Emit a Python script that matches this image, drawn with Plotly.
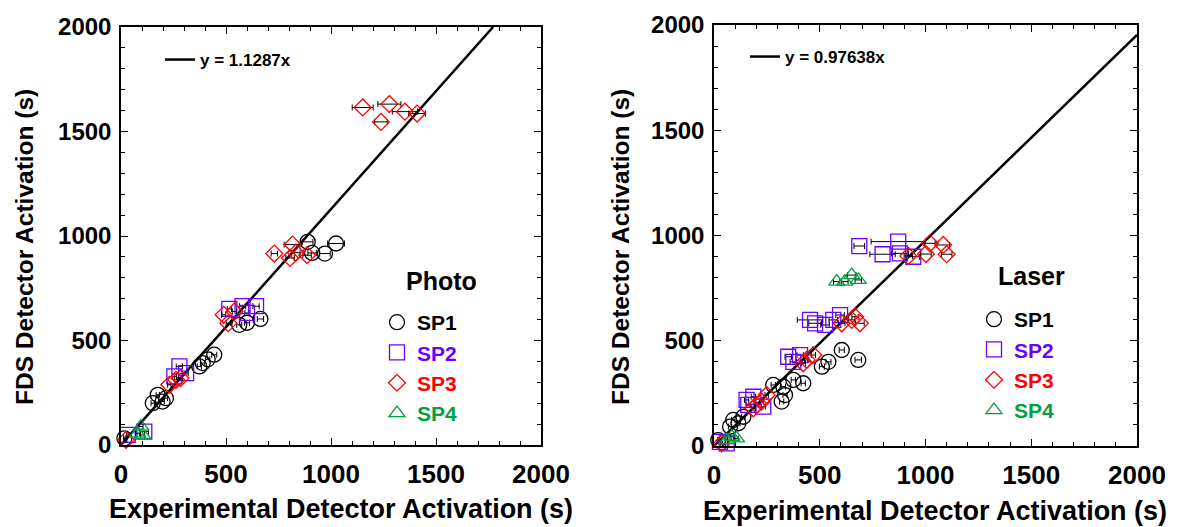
import plotly.graph_objects as go

# ---- Photo detectors (left panel) ----
photo_sp1_x = [16, 151, 175, 198, 214, 373, 389, 413, 444, 563, 600, 664, 889, 910, 971, 1024]
photo_sp1_y = [32, 200, 240, 208, 224, 376, 392, 410, 432, 575, 585, 603, 972, 919, 916, 964]
photo_sp1_ex = [4, 8, 8, 8, 8, 10, 10, 10, 12, 12, 12, 15, 25, 20, 25, 40]

photo_sp2_x = [32, 111, 254, 278, 310, 516, 579, 600, 643]
photo_sp2_y = [48, 64, 328, 376, 344, 651, 664, 632, 664]
photo_sp2_ex = [5, 20, 10, 15, 10, 10, 15, 10, 15]

photo_sp3_x = [24, 230, 262, 283, 489, 511, 540, 730, 805, 817, 833, 886, 1151, 1238, 1278, 1352, 1410]
photo_sp3_y = [24, 288, 312, 320, 623, 583, 639, 916, 895, 959, 920, 908, 1615, 1546, 1631, 1595, 1586]
photo_sp3_ex = [4, 8, 8, 8, 10, 10, 10, 15, 20, 40, 20, 20, 50, 30, 55, 60, 40]

photo_sp4_x = [79, 95, 103]
photo_sp4_y = [56, 88, 48]
photo_sp4_ex = [10, 10, 10]

# ---- Laser detectors (right panel) ----
laser_sp1_x = [20, 76, 91, 115, 139, 280, 320, 328, 336, 375, 422, 510, 541, 604, 682]
laser_sp1_y = [28, 92, 124, 108, 139, 290, 211, 282, 242, 314, 298, 377, 400, 456, 409]
laser_sp1_ex = [4, 8, 8, 8, 8, 10, 10, 10, 10, 10, 10, 12, 12, 12, 15]

laser_sp2_x = [28, 60, 154, 162, 186, 233, 351, 375, 407, 454, 478, 525, 564, 596, 687, 797, 871, 879, 942]
laser_sp2_y = [20, 12, 219, 195, 234, 187, 424, 400, 432, 599, 583, 575, 599, 622, 950, 911, 971, 915, 899]
laser_sp2_ex = [4, 6, 10, 10, 10, 10, 15, 15, 15, 60, 30, 20, 20, 20, 25, 60, 128, 40, 30]

laser_sp3_x = [36, 186, 201, 225, 249, 422, 438, 470, 604, 651, 667, 690, 919, 1002, 1021, 1084, 1100]
laser_sp3_y = [12, 179, 195, 211, 242, 393, 409, 432, 583, 599, 614, 583, 903, 912, 963, 955, 911]
laser_sp3_ex = [4, 8, 8, 8, 8, 10, 10, 10, 15, 15, 15, 20, 20, 25, 25, 30, 25]

laser_sp4_x = [60, 84, 107, 580, 619, 651, 682]
laser_sp4_y = [28, 44, 36, 781, 781, 812, 789]
laser_sp4_ex = [6, 8, 8, 15, 15, 20, 15]

# fitted slopes
photo_slope = 1.1287
laser_slope = 0.97638

AX_MAX = 2000
FONT = "Liberation Sans"
COLORS = {"SP1": "#000000", "SP2": "#6A00FF", "SP3": "#FF0000", "SP4": "#00A040"}
SYMBOLS = {"SP1": "circle-open", "SP2": "square-open", "SP3": "diamond-open", "SP4": "triangle-up-open"}
SIZES = {"SP1": 15, "SP2": 15, "SP3": 13, "SP4": 14}

fig = go.Figure()


def add_series(name, xs, ys, exs, xa, ya, legend):
    fig.add_trace(go.Scatter(
        x=xs, y=ys, mode="markers", xaxis=xa, yaxis=ya, legend=legend,
        name=f"<span style='color:{COLORS[name]}'>{name}</span>",
        marker=dict(symbol=SYMBOLS[name], size=SIZES[name], color=COLORS[name],
                    line=dict(width=1.3, color=COLORS[name])),
        error_x=dict(type="data", array=exs, color="black", thickness=1, width=3),
        cliponaxis=False,
    ))


def add_fit(slope, xa, ya, legend):
    x_end = min(AX_MAX, AX_MAX / slope)
    fig.add_trace(go.Scatter(
        x=[0, x_end], y=[0, slope * x_end], mode="lines", xaxis=xa, yaxis=ya,
        legend=legend, name=f"y = {slope}x", line=dict(color="black", width=2.5),
    ))


add_fit(photo_slope, "x", "y", "legend3")
add_series("SP1", photo_sp1_x, photo_sp1_y, photo_sp1_ex, "x", "y", "legend")
add_series("SP2", photo_sp2_x, photo_sp2_y, photo_sp2_ex, "x", "y", "legend")
add_series("SP3", photo_sp3_x, photo_sp3_y, photo_sp3_ex, "x", "y", "legend")
add_series("SP4", photo_sp4_x, photo_sp4_y, photo_sp4_ex, "x", "y", "legend")

add_fit(laser_slope, "x2", "y2", "legend4")
add_series("SP1", laser_sp1_x, laser_sp1_y, laser_sp1_ex, "x2", "y2", "legend2")
add_series("SP2", laser_sp2_x, laser_sp2_y, laser_sp2_ex, "x2", "y2", "legend2")
add_series("SP3", laser_sp3_x, laser_sp3_y, laser_sp3_ex, "x2", "y2", "legend2")
add_series("SP4", laser_sp4_x, laser_sp4_y, laser_sp4_ex, "x2", "y2", "legend2")

W, H = 1181, 527


def axis(domain, anchor, size, standoff):
    return dict(
        domain=domain, anchor=anchor, range=[0, AX_MAX], tick0=0, dtick=500,
        ticks="inside", ticklen=7, tickwidth=1.3, tickcolor="black",
        minor=dict(ticks="inside", dtick=100, ticklen=4, tickwidth=1, tickcolor="black"),
        showline=True, linecolor="black", linewidth=1.5, mirror="allticks",
        showgrid=False, zeroline=False, automargin=False,
        tickfont=dict(family=FONT, size=size, color="black", weight="bold"),
        ticklabelstandoff=standoff,
    )


legend_common = dict(
    bgcolor="rgba(0,0,0,0)", borderwidth=0, xanchor="left", yanchor="top",
    font=dict(family=FONT, size=21, color="black", weight="bold"),
    tracegroupgap=0, itemclick=False,
)
eq_common = dict(
    bgcolor="rgba(0,0,0,0)", borderwidth=0, xanchor="left", yanchor="middle",
    font=dict(family=FONT, size=17, color="black", weight="bold"),
)

fig.update_layout(
    width=W, height=H, margin=dict(l=0, r=0, t=0, b=0),
    paper_bgcolor="white", plot_bgcolor="white", showlegend=True,
    xaxis=axis([121 / W, 541 / W], "y", 26, 5),
    yaxis=axis([1 - 445 / H, 1 - 27 / H], "x", 24, 3),
    xaxis2=axis([714 / W, 1137 / W], "y2", 26, 5),
    yaxis2=axis([1 - 446 / H, 1 - 25 / H], "x2", 24, 3),
    legend=dict(x=377 / W, y=1 - 302 / H, **legend_common),
    legend2=dict(x=974 / W, y=1 - 299 / H, **legend_common),
    legend3=dict(x=160 / W, y=1 - 60 / H, **eq_common),
    legend4=dict(x=745 / W, y=1 - 57 / H, **eq_common),
)

xtitle_font = dict(family=FONT, size=27, color="black", weight="bold")
ytitle_font = dict(family=FONT, size=24.5, color="black", weight="bold")
legend_title_font = dict(family=FONT, size=25, color="black", weight="bold")
annotations = [
    dict(text="Experimental Detector Activation (s)", x=341 / W, y=1 - 509 / H, font=xtitle_font),
    dict(text="Experimental Detector Activation (s)", x=935 / W, y=1 - 511 / H, font=xtitle_font),
    dict(text="FDS Detector Activation (s)", x=24 / W, y=1 - 247 / H, textangle=-90, font=ytitle_font),
    dict(text="FDS Detector Activation (s)", x=620 / W, y=1 - 247 / H, textangle=-90, font=ytitle_font),
    dict(text="Photo", x=441 / W, y=1 - 281 / H, font=legend_title_font),
    dict(text="Laser", x=1031 / W, y=1 - 276 / H, font=legend_title_font),
]
for a in annotations:
    fig.add_annotation(xref="paper", yref="paper", showarrow=False,
                       xanchor="center", yanchor="middle", **a)

fig.write_html("out.html")
